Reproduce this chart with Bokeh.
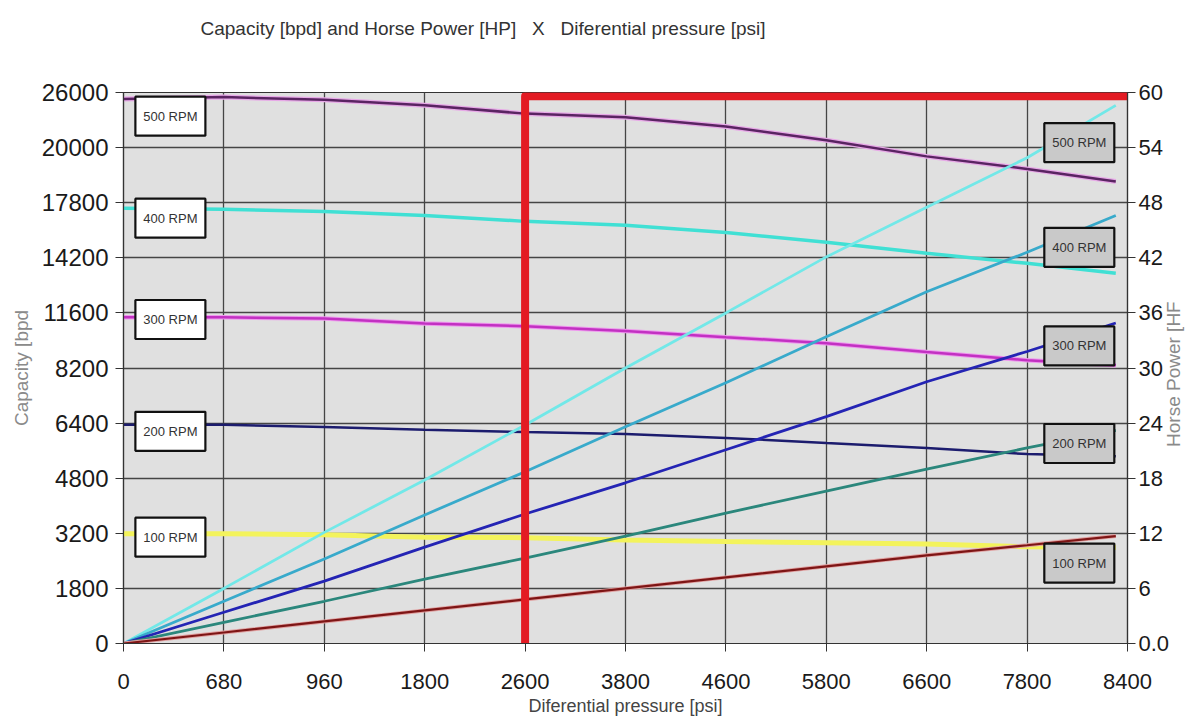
import math
import numpy as np
from bokeh.plotting import figure
from bokeh.models import Range1d, LinearAxis, FixedTicker, Title
from bokeh.core.properties import value
from bokeh.embed import file_html
from bokeh.resources import INLINE

# ---------------- data ----------------
# Tick labels (axes are drawn with equally spaced, non-uniform labels)
pressure_ticks = [0, 680, 960, 1800, 2600, 3800, 4600, 5800, 6600, 7800, 8400]
capacity_ticks = [0, 1800, 3200, 4800, 6400, 8200, 11600, 14200, 17800, 20000, 26000]
hp_ticks = [0, 6, 12, 18, 24, 30, 36, 42, 48, 54, 60]

# Differential pressure [psi] where curves were read
pressure = [0, 680, 960, 1800, 2600, 3800, 4600, 5800, 6600, 7800, 8330]

# Capacity [bpd]
cap_500 = [25300, 25500, 25200, 24600, 23700, 23300, 22300, 20800, 19650, 19150, 18650]
cap_400 = [17440, 17370, 17220, 16970, 16580, 16320, 15860, 15210, 14490, 13940, 13470]
cap_300 = [11330, 11330, 11250, 10950, 10780, 10480, 10100, 9730, 9190, 8680, 8370]
cap_200 = [6350, 6350, 6290, 6210, 6140, 6080, 5970, 5820, 5680, 5500, 5440]
cap_100 = [3190, 3190, 3160, 3100, 3090, 3030, 2990, 2960, 2930, 2860, 2840]

# Horse power [HP]
hp_500 = [0, 6.0, 12.1, 17.8, 23.8, 30.0, 36.0, 42.1, 47.5, 52.9, 58.6]
hp_400 = [0, 4.6, 9.2, 14.0, 18.7, 23.6, 28.4, 33.4, 38.3, 42.6, 46.6]
hp_300 = [0, 3.4, 6.8, 10.5, 14.1, 17.5, 21.1, 24.7, 28.5, 31.8, 34.9]
hp_200 = [0, 2.3, 4.6, 7.0, 9.3, 11.7, 14.2, 16.6, 19.0, 21.3, 23.2]
hp_100 = [0, 1.2, 2.4, 3.6, 4.8, 6.0, 7.2, 8.4, 9.6, 10.7, 11.7]

rpm_labels = ["500 RPM", "400 RPM", "300 RPM", "200 RPM", "100 RPM"]
highlight_pressure = 2600

title_text = "Capacity [bpd] and Horse Power [HP]\u00a0\u00a0 X \u00a0\u00a0Diferential pressure [psi]"
x_title = "Diferential pressure [psi]"
y_title = "Capacity [bpd"
y2_title = "Horse Power [HF"

# ---------------- helpers (axis is piecewise: equal spacing per tick) ----------------
idx = list(range(len(pressure_ticks)))


def px(v):
    return np.interp(v, pressure_ticks, idx)


def cy(v):
    return np.interp(v, capacity_ticks, idx)


SANS = "Liberation Sans"

p = figure(width=1197, height=718, output_backend="svg", toolbar_location=None, title=None,
           x_range=Range1d(0, 10), y_range=Range1d(0, 10),
           min_border_left=123, min_border_right=67, min_border_top=92, min_border_bottom=74)
p.extra_y_ranges = {"hp": Range1d(0, 60)}

p.background_fill_color = "#e0e0e0"
p.border_fill_color = "white"
p.outline_line_color = "#333333"
p.outline_line_width = 1.2

# title: a blank spacer title next to the frame, the real title above it
p.add_layout(Title(text=" ", text_font_size="10px", standoff=41), "above")
p.add_layout(Title(text=title_text, align="left", offset=77, standoff=0,
                   vertical_align="bottom", text_font=SANS, text_font_size="19px",
                   text_font_style="normal", text_color="#333333"), "above")

# axes
xa = p.xaxis[0]
xa.ticker = FixedTicker(ticks=idx)
xa.major_label_overrides = {i: str(t) for i, t in enumerate(pressure_ticks)}
xa.axis_label = x_title
ya = p.yaxis[0]
ya.ticker = FixedTicker(ticks=idx)
ya.major_label_overrides = {i: str(t) for i, t in enumerate(capacity_ticks)}
ya.axis_label = y_title

ra = LinearAxis(y_range_name="hp", ticker=FixedTicker(ticks=hp_ticks),
                major_label_overrides={0: "0.0"})
p.add_layout(ra, "right")

for ax in (xa, ya, ra):
    ax.axis_line_color = "#333333"
    ax.axis_line_width = 1.2
    ax.major_tick_line_color = "#333333"
    ax.major_tick_in = 0
    ax.major_tick_out = 8
    ax.minor_tick_line_color = None
    ax.major_label_text_font = SANS
    ax.major_label_text_color = "#1a1a1a"
    ax.axis_label_text_font_style = "normal"

xa.major_label_text_font_size = "22px"
xa.major_label_standoff = 22
xa.axis_label_text_font = SANS
xa.axis_label_text_font_size = "18px"
xa.axis_label_text_color = "#444444"
xa.axis_label_standoff = 4

ya.major_label_text_font_size = "24px"
ya.major_label_standoff = 7
ya.axis_label_text_font = SANS
ya.axis_label_text_font_size = "19px"
ya.axis_label_text_color = "#8a8a8a"
ya.axis_label_standoff = 7

ra.major_label_text_font_size = "22px"
ra.major_label_standoff = 3

# right-hand axis title, drawn as the single (rotated) label of an outer axis so
# that it reads bottom-to-top like the reference; anchored where the text starts
hp_title_anchor = 21.4
ta = LinearAxis(y_range_name="hp", ticker=FixedTicker(ticks=[hp_title_anchor]),
                major_label_overrides={hp_title_anchor: y2_title},
                major_label_orientation=math.pi / 2,
                major_label_text_font=SANS, major_label_text_font_size="19px",
                major_label_text_color="#8a8a8a", major_label_standoff=1,
                major_tick_in=0, major_tick_out=0, minor_tick_in=0, minor_tick_out=0,
                axis_line_color=None, major_tick_line_color=None,
                minor_tick_line_color=None)
p.add_layout(ta, "right")

for g in (p.xgrid[0], p.ygrid[0]):
    g.grid_line_color = "#454545"
    g.grid_line_width = 1.3

# ---------------- curves ----------------
xs = px(pressure)

# capacity curves (left axis)
p.line(xs, cy(cap_500), line_color="#e7a9e7", line_width=5)
p.line(xs, cy(cap_500), line_color="#5a2462", line_width=2.5)
p.line(xs, cy(cap_400), line_color="#40e0d4", line_width=3.5)
p.line(xs, cy(cap_300), line_color="#ee99ee", line_width=4.5)
p.line(xs, cy(cap_300), line_color="#c231c2", line_width=2.5)
p.line(xs, cy(cap_200), line_color="#1c1c6e", line_width=2.5)
p.line(xs, cy(cap_100), line_color="#f3f35c", line_width=5)

# horse power curves (right axis)
p.line(xs, hp_500, line_color="#72e8e8", line_width=2.8, y_range_name="hp")
p.line(xs, hp_400, line_color="#38aacb", line_width=2.8, y_range_name="hp")
p.line(xs, hp_300, line_color="#2424b4", line_width=2.8, y_range_name="hp")
p.line(xs, hp_200, line_color="#2b877c", line_width=2.8, y_range_name="hp")
p.line(xs, hp_100, line_color="#e0a0a0", line_width=4, y_range_name="hp")
p.line(xs, hp_100, line_color="#7e1515", line_width=2.2, y_range_name="hp")

# red highlight at 2600 psi
hx = float(px(highlight_pressure))
top = float(cy(capacity_ticks[-1]))
p.line([hx, hx, 10.2], [-0.2, top - 0.07, top - 0.07], line_color="#e31b23",
       line_width=8, line_join="round", line_cap="round")

# ---------------- RPM label boxes ----------------
left_box_x = 0.467
left_box_y = [9.57, 7.72, 5.88, 3.85, 1.93]
right_box_x = 9.52
right_box_y = [9.09, 7.19, 5.40, 3.63, 1.46]

for bx, bys, fill in ((left_box_x, left_box_y, "white"), (right_box_x, right_box_y, "#c9c9c9")):
    p.rect([bx] * 5, bys, width=70, height=39, width_units="screen", height_units="screen",
           fill_color=fill, line_color="#111111", line_width=2.2)
    p.text([bx] * 5, bys, text=rpm_labels, text_align="center", text_baseline="middle",
           text_font=value(SANS), text_font_size="13px", text_color="#333333")

open("out.html", "w").write(file_html(p, INLINE))
